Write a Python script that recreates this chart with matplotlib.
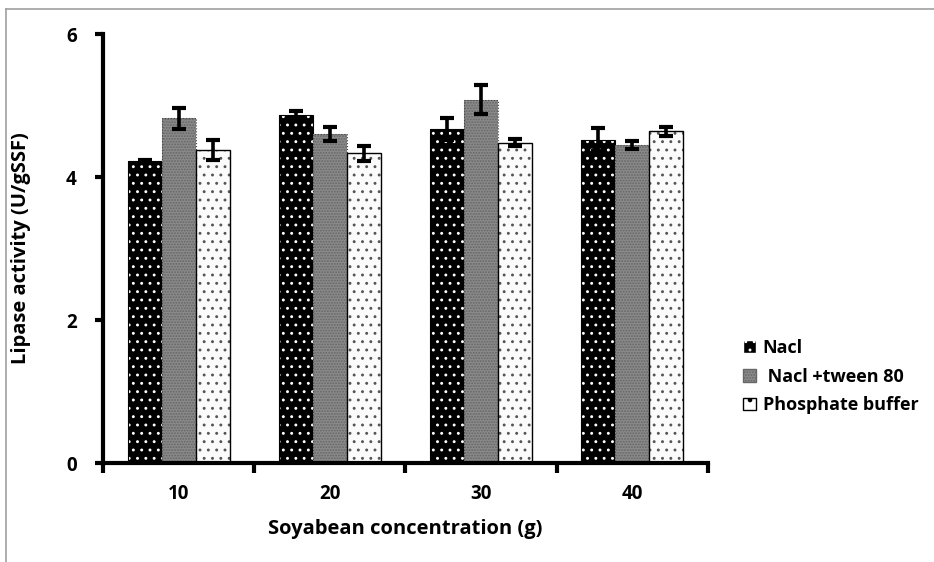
import numpy as np
import matplotlib.pyplot as plt
from matplotlib.patches import Patch
from matplotlib.lines import Line2D

plt.rcParams['font.family'] = ['Open Sans', 'DejaVu Sans']
plt.rcParams['font.weight'] = 'bold'
plt.rcParams['hatch.linewidth'] = 0.9

categories = ['10', '20', '30', '40']
series = ['Nacl', ' Nacl +tween 80', 'Phosphate buffer']
nacl = [4.22, 4.87, 4.67, 4.52]
nacl_err = [0.02, 0.05, 0.15, 0.16]
tween = [4.82, 4.60, 5.08, 4.45]
tween_err = [0.15, 0.10, 0.20, 0.06]
phosphate = [4.38, 4.33, 4.48, 4.64]
phosphate_err = [0.14, 0.10, 0.05, 0.06]

fig = plt.figure(figsize=(9.34, 5.62), dpi=100)
ax = fig.add_axes([0.1103, 0.176, 0.6477, 0.7635])

# gray frame of the original picture
fig.add_artist(Line2D([0.006, 0.006], [0, 0.984], color='#a0a0a0', lw=1.2, transform=fig.transFigure))
fig.add_artist(Line2D([0.006, 1.0], [0.984, 0.984], color='#a0a0a0', lw=1.2, transform=fig.transFigure))

x = np.arange(len(categories))
w = 0.225

# Nacl: black with white dots
ax.bar(x - w, nacl, w, color='black', edgecolor='white', hatch='..', linewidth=0)
ax.bar(x - w, nacl, w, fill=False, edgecolor='black', linewidth=0.8)
# Nacl + tween: gray fine pattern
ax.bar(x, tween, w, color='#8a8a8a', edgecolor='#666666', hatch='......', linewidth=0)
ax.bar(x, tween, w, fill=False, edgecolor='#444444', linewidth=0.8, linestyle=':')
# Phosphate: white with black dots
ax.bar(x + w, phosphate, w, color='#fbfbfb', edgecolor='#555555', hatch='..', linewidth=0)
ax.bar(x + w, phosphate, w, fill=False, edgecolor='black', linewidth=1.0)

for off, vals, errs in [(-w, nacl, nacl_err), (0, tween, tween_err), (w, phosphate, phosphate_err)]:
    ax.errorbar(x + off, vals, yerr=errs, fmt='none', ecolor='black',
                elinewidth=2.6, capsize=5, capthick=3)

ax.set_xlim(-0.5, 3.5)
ax.set_ylim(0, 6)
ax.set_yticks([0, 2, 4, 6])
ax.set_xticks(np.arange(-0.5, 4, 1))
ax.set_xticklabels([])
ax.set_xticks(x, minor=True)
ax.set_xticklabels(categories, minor=True, fontweight='bold')
ax.set_yticklabels(['0', '2', '4', '6'], fontweight='bold')
ax.tick_params(axis='x', which='major', direction='out', length=7, width=3)
ax.tick_params(axis='x', which='minor', length=0, pad=15, labelsize=13.5)
ax.tick_params(axis='y', direction='out', length=6, width=3, pad=13, labelsize=13.5)

for s in ['top', 'right']:
    ax.spines[s].set_visible(False)
for s in ['left', 'bottom']:
    ax.spines[s].set_linewidth(3)

ax.set_xlabel('Soyabean concentration (g)', fontsize=14.5, fontweight='bold', labelpad=11)
ax.set_ylabel('Lipase activity (U/gSSF)', fontsize=14.5, fontweight='bold', labelpad=25)

handles = [
    Patch(facecolor='black', edgecolor='white', hatch='..'),
    Patch(facecolor='#8a8a8a', edgecolor='#666666', hatch='......'),
    Patch(facecolor='white', edgecolor='black', hatch='.'),
]
fig.legend(handles, series, loc='center left', bbox_to_anchor=(0.778, 0.33),
           frameon=False, prop={'size': 13, 'weight': 'bold'}, handlelength=0.7,
           handleheight=0.7, handletextpad=0.4, labelspacing=0.6)

fig.savefig('out.png', dpi=100)
